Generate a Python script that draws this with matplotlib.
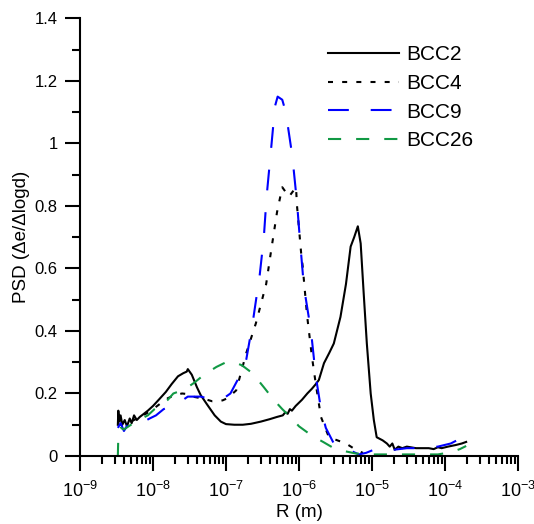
import matplotlib
matplotlib.use("Agg")
from matplotlib import pyplot as plt
from matplotlib.ticker import FixedLocator, LogLocator, NullFormatter

plt.rcParams["font.family"] = ["Liberation Sans", "DejaVu Sans"]
plt.rcParams["mathtext.fontset"] = "custom"
plt.rcParams["mathtext.rm"] = "Liberation Sans"
plt.rcParams["axes.unicode_minus"] = False

# radius (m) and PSD values
r_bcc2 = [3.3e-9, 3.35e-9, 3.45e-9, 3.6e-9, 3.8e-9, 4.1e-9, 4.4e-9, 4.8e-9, 5.1e-9,
          5.5e-9, 6.0e-9, 6.6e-9, 7.5e-9, 8.5e-9, 1.0e-8, 1.2e-8, 1.5e-8, 1.8e-8,
          2.2e-8, 2.6e-8, 2.9e-8, 3.0e-8, 3.4e-8, 4.0e-8, 4.5e-8, 5.5e-8, 7e-8,
          8.5e-8, 1.0e-7, 1.3e-7, 1.7e-7, 2.2e-7, 3e-7, 4e-7, 5e-7, 6.0e-7, 6.5e-7,
          7.0e-7, 7.5e-7, 8e-7, 9e-7, 1.1e-6, 1.3e-6, 1.5e-6, 1.7e-6, 1.87e-6,
          2.2e-6, 2.6e-6, 3.0e-6, 3.7e-6, 4.4e-6, 5.1e-6, 5.7e-6, 6.4e-6, 7.0e-6,
          7.7e-6, 8.5e-6, 9.6e-6, 1.06e-5, 1.16e-5, 1.4e-5, 1.6e-5, 1.75e-5,
          1.9e-5, 2.05e-5, 2.3e-5, 2.6e-5, 3e-5, 4e-5, 5e-5, 6e-5, 7e-5, 8e-5,
          9e-5, 1.1e-4, 1.4e-4, 1.7e-4, 1.95e-4]
psd_bcc2 = [0.10, 0.145, 0.11, 0.13, 0.10, 0.115, 0.095, 0.12, 0.105,
            0.13, 0.115, 0.125, 0.135, 0.145, 0.16, 0.18, 0.205, 0.23,
            0.255, 0.265, 0.27, 0.278, 0.26, 0.22, 0.195, 0.165, 0.13,
            0.11, 0.102, 0.10, 0.10, 0.103, 0.11, 0.118, 0.125, 0.13, 0.14,
            0.135, 0.15, 0.145, 0.16, 0.18, 0.20, 0.215, 0.23, 0.243,
            0.297, 0.33, 0.36, 0.445, 0.55, 0.67, 0.70, 0.735, 0.68,
            0.52, 0.36, 0.20, 0.115, 0.06, 0.05, 0.04, 0.03,
            0.04, 0.02, 0.03, 0.025, 0.03, 0.025, 0.025, 0.025, 0.022, 0.028,
            0.025, 0.03, 0.035, 0.04, 0.045]

r_bcc4 = [3.3e-9, 4e-9, 5e-9, 6e-9, 7e-9, 8e-9, 1e-8, 1.3e-8, 1.6e-8, 2e-8, 2.5e-8,
          3e-8, 3.5e-8, 4.5e-8, 5.5e-8, 6.5e-8, 7.5e-8, 9e-8, 1.05e-7, 1.38e-7,
          1.9e-7, 2.57e-7, 3.55e-7, 4.17e-7, 5e-7, 5.9e-7, 7.3e-7, 9.1e-7, 9.4e-7,
          1.07e-6, 1.12e-6, 1.29e-6, 1.5e-6, 1.7e-6, 2.0e-6, 2.57e-6, 4.4e-6,
          6.0e-6, 7.5e-6]
psd_bcc4 = [0.10, 0.10, 0.11, 0.12, 0.13, 0.135, 0.15, 0.17, 0.185, 0.195, 0.20,
            0.198, 0.19, 0.185, 0.18, 0.175, 0.175, 0.178, 0.185, 0.21,
            0.33, 0.425, 0.55, 0.66, 0.78, 0.86, 0.83, 0.86, 0.80,
            0.65, 0.61, 0.45, 0.32, 0.23, 0.125, 0.06, 0.04,
            0.02, 0.01]

r_bcc9 = [3.3e-9, 3.6e-9, 4.0e-9, 4.5e-9, 5.5e-9, 6.5e-9, 7.5e-9, 9e-9, 1.1e-8,
          1.4e-8, 1.8e-8, 2.2e-8, 2.6e-8, 3e-8, 3.5e-8, 4.5e-8, 5.5e-8, 7e-8,
          8.5e-8, 1.0e-7, 1.15e-7, 1.66e-7, 1.9e-7, 2.3e-7, 2.9e-7, 3.3e-7,
          3.6e-7, 4.1e-7, 4.7e-7, 5.1e-7, 5.9e-7, 6.6e-7, 8.1e-7, 9.4e-7,
          1.04e-6, 1.17e-6, 1.46e-6, 1.7e-6, 2.0e-6, 2.33e-6, 3.0e-6, 3.9e-6,
          4.8e-6, 6.6e-6, 8.3e-6, 1.06e-5, 1.35e-5, 2e-5, 3e-5, 5e-5, 8e-5,
          1.2e-4, 1.6e-4, 1.95e-4]
psd_bcc9 = [0.09, 0.105, 0.08, 0.10, 0.105, 0.115, 0.11, 0.12, 0.13,
            0.15, 0.16, 0.17, 0.18, 0.19, 0.19, 0.19, 0.185, 0.185,
            0.19, 0.19, 0.20, 0.27, 0.31, 0.42, 0.58, 0.70,
            0.83, 0.97, 1.12, 1.15, 1.14, 1.10, 0.96, 0.81,
            0.68, 0.54, 0.40, 0.255, 0.15, 0.09, 0.04, 0.025,
            0.02, 0.005, 0.01, 0.02, 0.025, 0.02, 0.025, 0.025, 0.03,
            0.04, 0.055, 0.068]

r_bcc26 = [3.3e-9, 3.35e-9, 3.6e-9, 4e-9, 5e-9, 6e-9, 7e-9, 8.5e-9, 1.05e-8,
           1.3e-8, 1.6e-8, 1.9e-8, 2.5e-8, 3e-8, 3.7e-8, 5e-8, 7.4e-8, 1.0e-7,
           1.3e-7, 1.66e-7, 2.3e-7, 3.3e-7, 4.5e-7, 5.9e-7, 8e-7, 1e-6, 1.5e-6,
           2.14e-6, 3e-6, 4.3e-6, 6e-6, 1e-5, 2e-5, 4e-5, 8e-5, 1.2e-4, 1.6e-4,
           1.95e-4]
psd_bcc26 = [0.0, 0.065, 0.09, 0.085, 0.10, 0.11, 0.12, 0.13, 0.15,
             0.165, 0.18, 0.20, 0.21, 0.22, 0.235, 0.26, 0.285, 0.30,
             0.30, 0.29, 0.265, 0.22, 0.18, 0.15, 0.12, 0.095, 0.065,
             0.045, 0.025, 0.015, 0.008, 0.005, 0.005, 0.005, 0.005, 0.012, 0.022,
             0.032]

y_ticks = [0, 0.2, 0.4, 0.6, 0.8, 1, 1.2, 1.4]

fig = plt.figure(figsize=(5.34, 5.24), dpi=100)
ax = fig.add_axes([0.1498, 0.1298, 0.8202, 0.8349])

ax.plot(r_bcc2, psd_bcc2, color="black", lw=1.5, label="BCC2")
ax.plot(r_bcc4, psd_bcc4, color="black", lw=1.5, linestyle=(0, (2.4, 4.4)), label="BCC4")
ax.plot(r_bcc9, psd_bcc9, color="#0000ff", lw=1.5, linestyle=(0, (10, 10.5)), label="BCC9")
ax.plot(r_bcc26, psd_bcc26, color="#119944", lw=1.5, linestyle=(0, (6.3, 7.2)), label="BCC26")

ax.set_xscale("log")
ax.set_xlim(1e-9, 1e-3)
ax.set_ylim(0, 1.4)
ax.xaxis.set_major_locator(LogLocator(base=10, numticks=10))
ax.xaxis.set_minor_locator(LogLocator(base=10, subs=range(2, 10), numticks=20))
ax.xaxis.set_minor_formatter(NullFormatter())
ax.yaxis.set_major_locator(FixedLocator(y_ticks))
ax.set_yticklabels([f"{v:g}" for v in y_ticks])
ax.yaxis.set_minor_locator(FixedLocator([0.1, 0.3, 0.5, 0.7, 0.9, 1.1, 1.3]))

for s in ["top", "right"]:
    ax.spines[s].set_visible(False)
for s in ["left", "bottom"]:
    ax.spines[s].set_linewidth(1.5)
ax.tick_params(which="major", direction="out", length=11, width=1.5, labelsize=12, pad=5)
ax.tick_params(axis="x", which="major", labelsize=13, pad=7)
ax.tick_params(which="minor", direction="out", length=5.5, width=1.5)

ax.set_xlabel("R (m)", fontsize=13.5, labelpad=2)
ax.set_ylabel("PSD (\u0394e/\u0394logd)", fontsize=13.5, labelpad=3)

ax.legend(loc="upper left", bbox_to_anchor=(0.614, 0.914), bbox_transform=fig.transFigure,
          frameon=False, fontsize=15, handlelength=3.4, handletextpad=0.38,
          labelspacing=0.47, borderpad=0, borderaxespad=0)

fig.savefig("out.png", dpi=100)
